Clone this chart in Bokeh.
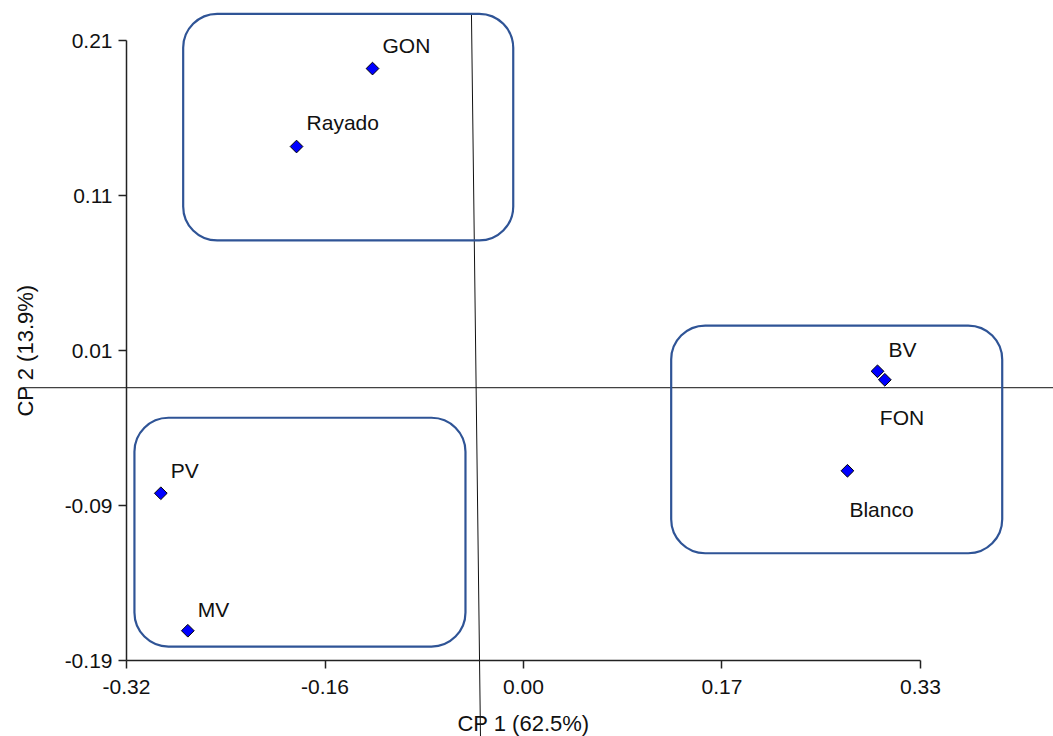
import math
from bokeh.plotting import figure
from bokeh.models import ColumnDataSource, FixedTicker, BoxAnnotation, Range1d
from bokeh.core.properties import value
from bokeh.embed import file_html
from bokeh.resources import INLINE

# ---- data ----
names = ["GON", "Rayado", "PV", "MV", "BV", "FON", "Blanco"]
cp1 = [-0.1186, -0.1808, -0.2919, -0.2698, 0.2948, 0.3008, 0.2702]
cp2 = [0.1919, 0.1416, -0.0821, -0.1708, -0.0034, -0.0089, -0.0676]

x_ticks = [-0.32, -0.1575, 0.005, 0.1675, 0.33]
x_tick_labels = ["-0.32", "-0.16", "0.00", "0.17", "0.33"]
y_ticks = [0.21, 0.11, 0.01, -0.09, -0.19]
y_tick_labels = ["0.21", "0.11", "0.01", "-0.09", "-0.19"]

x_title = "CP 1 (62.5%)"
y_title = "CP 2 (13.9%)"

# group boxes: (left, right, top, bottom) in data units
group_boxes = [
    (-0.2736, -0.0034, 0.2272, 0.0810),
    (-0.3135, -0.0425, -0.0334, -0.1810),
    (0.1259, 0.3969, 0.0261, -0.1208),
]

# reference lines
ref_h_x = [-0.4046, 0.45]
ref_h_y = [-0.0140, -0.0140]
ref_v_x = [-0.0376, -0.0302]
ref_v_y = [0.2268, -0.2400]

# label offsets in screen pixels (style)
label_dx = [10, 10, 10, 10, 11, -5, 2]
label_dy = [-23, -24, -23, -21, -22, 38, 39]

FONT = "Liberation Sans"

p = figure(width=1053, height=736, output_backend="svg", toolbar_location=None,
           x_range=Range1d(-0.42315, 0.43888), y_range=Range1d(-0.23903, 0.23581),
           min_border=0, min_border_left=0, min_border_right=0,
           min_border_top=0, min_border_bottom=0)
p.outline_line_color = None
p.grid.visible = False
p.background_fill_color = "white"

# axes drawn at data locations inside the frame
xa = p.xaxis[0]
ya = p.yaxis[0]
xa.fixed_location = -0.19
ya.fixed_location = -0.32
xa.bounds = (-0.32, 0.33)
ya.bounds = (-0.19, 0.21)
xa.ticker = FixedTicker(ticks=x_ticks)
ya.ticker = FixedTicker(ticks=y_ticks)
xa.major_label_overrides = dict(zip(x_ticks, x_tick_labels))
ya.major_label_overrides = dict(zip(y_ticks, y_tick_labels))
for ax in (xa, ya):
    ax.axis_line_color = "#222222"
    ax.axis_line_width = 1.5
    ax.major_tick_line_color = "#222222"
    ax.major_tick_line_width = 1.5
    ax.major_tick_in = 0
    ax.major_tick_out = 8
    ax.minor_tick_line_color = None
    ax.major_label_text_font = FONT
    ax.major_label_text_font_size = "21px"
    ax.major_label_text_color = "#111111"
    ax.axis_label_text_font = FONT
    ax.axis_label_text_font_size = "22px"
    ax.axis_label_text_font_style = "normal"
    ax.axis_label_text_color = "#111111"
xa.axis_label = x_title
ya.axis_label = y_title
xa.major_label_standoff = 11
ya.major_label_standoff = 6
xa.axis_label_standoff = 14
ya.axis_label_standoff = 24

# reference lines
p.line(ref_h_x, ref_h_y, line_color="#111111", line_width=1)
p.line(ref_v_x, ref_v_y, line_color="#111111", line_width=1)

# group boxes
for (l, r, t, b) in group_boxes:
    p.add_layout(BoxAnnotation(left=l, right=r, top=t, bottom=b,
                               fill_alpha=0, line_color="#2F5496", line_alpha=1,
                               line_width=2.2, border_radius=34))

src = ColumnDataSource(dict(x=cp1, y=cp2, name=names, dx=label_dx, dy=label_dy))
p.scatter(x="x", y="y", source=src, marker="square", angle=math.pi / 4, size=9,
          fill_color="#0000FF", line_color="black", line_width=1)
p.text(x="x", y="y", text="name", x_offset="dx", y_offset="dy", source=src,
       text_font=value(FONT), text_font_size=value("21px"), text_color="#111111",
       text_baseline="alphabetic", text_align="left")

open("out.html", "w").write(file_html(p, INLINE))
